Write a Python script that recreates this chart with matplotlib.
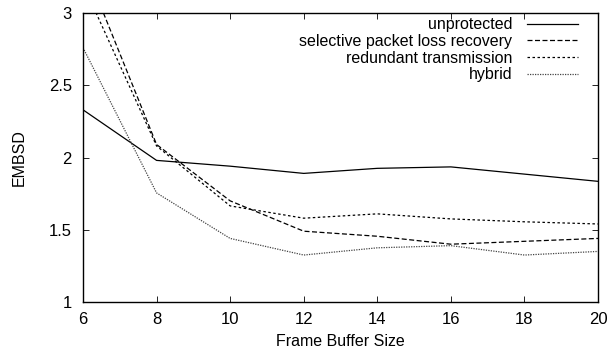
import matplotlib
matplotlib.use('Agg')
import matplotlib.pyplot as plt
from matplotlib import rc

font = {'family': 'Liberation Sans', 'size': 11.5}
rc('font', **font)

# datos
buf = [6, 8, 10, 12, 14, 16, 18, 20]
unprotected = [2.33, 1.98, 1.94, 1.89, 1.925, 1.935, 1.885, 1.835]
selective = [3.35, 2.09, 1.70, 1.49, 1.455, 1.40, 1.42, 1.44]
redundant = [3.20, 2.08, 1.665, 1.58, 1.61, 1.575, 1.555, 1.54]
hybrid = [2.76, 1.755, 1.44, 1.325, 1.375, 1.39, 1.325, 1.35]

fig = plt.figure(figsize=(6.13, 3.49), dpi=100)
ax = fig.add_axes([83/613., 1-302/349., (598-83)/613., (302-13)/349.])

lw = 0.9
ax.plot(buf, unprotected, color='k', lw=lw, label='unprotected')
ax.plot(buf, selective, color='k', lw=lw, dashes=(4, 2), label='selective packet loss recovery')
ax.plot(buf, redundant, color='k', lw=lw, dashes=(2, 2), label='redundant transmission')
ax.plot(buf, hybrid, color='#444444', lw=lw, dashes=(1, 1), label='hybrid')

ax.set_xlim(6, 20)
ax.set_ylim(1, 3)
ax.set_xticks([6, 8, 10, 12, 14, 16, 18, 20])
ax.set_yticks([1, 1.5, 2, 2.5, 3])
ax.set_yticklabels(['1', '1.5', '2', '2.5', '3'])
ax.tick_params(direction='in', top=True, right=True, length=4, width=0.6,
               labelsize=12)
ax.tick_params(axis='x', pad=7.5)
ax.tick_params(axis='y', pad=8)
for s in ax.spines.values():
    s.set_linewidth(1.0)

ax.set_xlabel('Frame Buffer Size', labelpad=4.5)
ax.set_ylabel('EMBSD', labelpad=16)

leg = ax.legend(loc='upper right', frameon=False, markerfirst=False,
                handlelength=3.2, labelspacing=0.1, borderaxespad=0.0,
                handletextpad=0.9, bbox_to_anchor=(1 - 14/515., 1 + 2/289.))
for vp in leg._legend_handle_box.get_children():
    vp.align = 'right'

plt.savefig('out.png', dpi=100)
